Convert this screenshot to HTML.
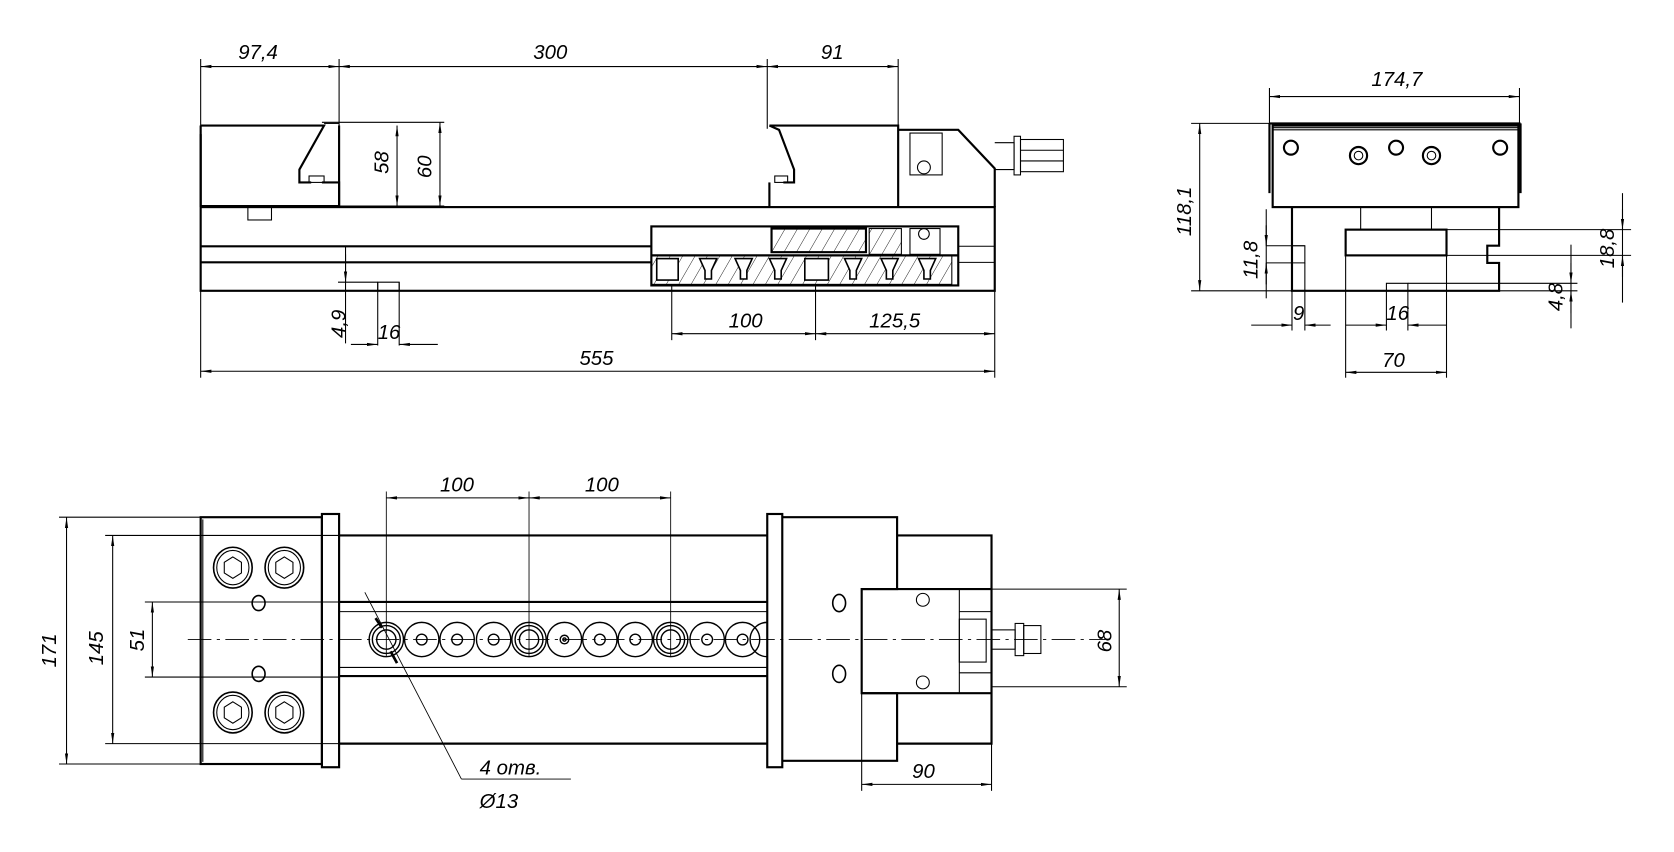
<!DOCTYPE html>
<html><head><meta charset="utf-8"><style>
html,body{margin:0;padding:0;background:#fff;}
svg{display:block}
text{font-family:"Liberation Sans",sans-serif;font-style:italic;font-size:19px;fill:#000}
</style></head><body>
<svg width="1674" height="852" viewBox="0 0 1560 794" preserveAspectRatio="none" xmlns="http://www.w3.org/2000/svg">
<defs>
<marker id="a" viewBox="0 0 10 4" refX="10" refY="2" markerWidth="10" markerHeight="4" orient="auto-start-reverse" markerUnits="userSpaceOnUse"><path d="M0,0.5L10,2L0,3.5z" fill="#000"/></marker>
<pattern id="h" width="10" height="10" patternUnits="userSpaceOnUse" patternTransform="rotate(30)"><line x1="0" y1="0" x2="0" y2="10" stroke="#000" stroke-width="0.8"/></pattern>
</defs>
<g fill="none" stroke="#000" stroke-width="1">
<line x1="187" y1="55" x2="187" y2="120"/><line x1="316" y1="55" x2="316" y2="120"/>
<line x1="715" y1="55" x2="715" y2="120"/><line x1="837" y1="55" x2="837" y2="120"/>
<line x1="187" y1="62" x2="316" y2="62" marker-start="url(#a)" marker-end="url(#a)"/>
<line x1="316" y1="62" x2="715" y2="62" marker-start="url(#a)" marker-end="url(#a)"/>
<line x1="715" y1="62" x2="837" y2="62" marker-start="url(#a)" marker-end="url(#a)"/>
<g stroke-width="2">
<path d="M187,125 L187,192 L316,192 L316,170 L300,170"/>
<path d="M187,117 L302,117 L279,158 L279,170 L290,170"/>
<line x1="187" y1="117" x2="187" y2="192"/>
<line x1="316" y1="117" x2="316" y2="192"/>
</g>
<path d="M302,115 L316,115"/>
<rect x="288" y="164" width="14" height="6"/>
<rect x="231" y="193" width="22" height="12"/>
<g stroke-width="2">
<path d="M717,117 L837,117 L837,193"/>
<path d="M717,117 L726,121 L740,158 L740,170 L730,170"/>
<path d="M717,170 L717,193"/>
<path d="M837,121 L893,121 L927,157 L927,193"/>
</g>
<rect x="722" y="164" width="12" height="6"/>
<rect x="848" y="124" width="30" height="39"/>
<circle cx="861" cy="156" r="6"/>
<path d="M927,133 L945,133 L945,158 L927,158"/>
<rect x="945" y="127" width="6" height="36"/>
<rect x="951" y="130" width="40" height="30"/>
<line x1="951" y1="140" x2="991" y2="140"/><line x1="951" y1="150" x2="991" y2="150"/>
<rect x="187" y="193" width="740" height="78" stroke-width="2"/>
<line x1="187" y1="229.5" x2="607" y2="229.5" stroke-width="2"/>
<line x1="187" y1="244.5" x2="607" y2="244.5" stroke-width="2"/>
<line x1="893" y1="229.5" x2="927" y2="229.5"/>
<line x1="893" y1="244.5" x2="927" y2="244.5"/>
<path d="M352,271 L352,263 L372,263 L372,271"/>
<rect x="607" y="211" width="286" height="55" stroke-width="2"/>
<line x1="607" y1="238" x2="893" y2="238" stroke-width="2"/>
<rect x="607" y="238" width="280" height="27" fill="url(#h)"/>
<rect x="719" y="213" width="88" height="22" fill="url(#h)" stroke-width="2"/>
<rect x="810" y="213" width="30" height="24" fill="url(#h)"/>
<rect x="848" y="213" width="28" height="24" fill="#fff"/>
<circle cx="861" cy="218" r="5"/>
<g fill="#fff" stroke-width="1.5">
<rect x="612" y="241" width="20" height="20"/>
<rect x="750" y="241" width="22" height="20"/>
<path d="M652,241 L668,241 L663,252 L663,260 L657,260 L657,252z"/>
<path d="M685,241 L701,241 L696,252 L696,260 L690,260 L690,252z"/>
<path d="M717,241 L733,241 L728,252 L728,260 L722,260 L722,252z"/>
<path d="M787,241 L803,241 L798,252 L798,260 L792,260 L792,252z"/>
<path d="M821,241 L837,241 L832,252 L832,260 L826,260 L826,252z"/>
<path d="M856,241 L872,241 L867,252 L867,260 L861,260 L861,252z"/>
</g>
<line x1="300" y1="114" x2="414" y2="114"/>
<line x1="316" y1="192" x2="414" y2="192"/>
<line x1="370" y1="117" x2="370" y2="192" marker-start="url(#a)" marker-end="url(#a)"/>
<line x1="410" y1="114" x2="410" y2="192" marker-start="url(#a)" marker-end="url(#a)"/>
<line x1="322" y1="229" x2="322" y2="320"/>
<line x1="322" y1="237" x2="322" y2="263" marker-end="url(#a)"/>
<line x1="315" y1="263" x2="352" y2="263"/>
<line x1="352" y1="263" x2="352" y2="322"/><line x1="372" y1="263" x2="372" y2="322"/>
<line x1="327" y1="321" x2="352" y2="321" marker-end="url(#a)"/>
<line x1="408" y1="321" x2="372" y2="321" marker-end="url(#a)"/>
<line x1="626" y1="266" x2="626" y2="317"/><line x1="760" y1="266" x2="760" y2="317"/>
<line x1="927" y1="271" x2="927" y2="352"/><line x1="187" y1="271" x2="187" y2="352"/>
<line x1="626" y1="311" x2="760" y2="311" marker-start="url(#a)" marker-end="url(#a)"/>
<line x1="760" y1="311" x2="927" y2="311" marker-start="url(#a)" marker-end="url(#a)"/>
<line x1="187" y1="346" x2="927" y2="346" marker-start="url(#a)" marker-end="url(#a)"/>

<line x1="1183" y1="82" x2="1183" y2="118"/><line x1="1416" y1="82" x2="1416" y2="118"/>
<line x1="1183" y1="90" x2="1416" y2="90" marker-start="url(#a)" marker-end="url(#a)"/>
<g stroke-width="2">
<rect x="1186" y="117" width="229" height="76"/>
<line x1="1183" y1="115" x2="1417" y2="115"/>
<line x1="1183" y1="115" x2="1183" y2="180"/><line x1="1417" y1="115" x2="1417" y2="180"/>
<path d="M1204,193 L1204,271 L1397,271 L1397,245 L1386,245 L1386,229 L1397,229 L1397,193"/>
<rect x="1254" y="214" width="94" height="24"/>
<circle cx="1203" cy="137.6" r="6.5"/><circle cx="1301" cy="137.6" r="6.5"/><circle cx="1398" cy="137.6" r="6.5"/>
<circle cx="1266" cy="145" r="8"/><circle cx="1334" cy="145" r="8"/>
</g>
<line x1="1186" y1="119" x2="1415" y2="119"/><line x1="1186" y1="121" x2="1415" y2="121"/>
<circle cx="1266" cy="145" r="4"/><circle cx="1334" cy="145" r="4"/>
<line x1="1268" y1="193" x2="1268" y2="214"/><line x1="1334" y1="193" x2="1334" y2="214"/>
<path d="M1204,229 L1216,229 L1216,245 L1204,245"/><line x1="1216" y1="245" x2="1216" y2="271"/>
<line x1="1254" y1="238" x2="1254" y2="352"/><line x1="1348" y1="238" x2="1348" y2="352"/>
<path d="M1292,271 L1292,264 L1312,264 L1312,271"/>
<line x1="1110" y1="115" x2="1183" y2="115"/><line x1="1110" y1="271" x2="1204" y2="271"/>
<line x1="1118" y1="115" x2="1118" y2="271" marker-start="url(#a)" marker-end="url(#a)"/>
<line x1="1180" y1="229" x2="1216" y2="229"/><line x1="1180" y1="245" x2="1204" y2="245"/>
<line x1="1180" y1="195" x2="1180" y2="278"/>
<line x1="1180" y1="210" x2="1180" y2="229" marker-end="url(#a)"/>
<line x1="1180" y1="265" x2="1180" y2="245" marker-end="url(#a)"/>
<line x1="1348" y1="214" x2="1520" y2="214"/><line x1="1348" y1="238" x2="1520" y2="238"/>
<line x1="1512" y1="180" x2="1512" y2="282"/>
<line x1="1512" y1="195" x2="1512" y2="214" marker-end="url(#a)"/>
<line x1="1512" y1="258" x2="1512" y2="238" marker-end="url(#a)"/>
<line x1="1312" y1="264" x2="1470" y2="264"/><line x1="1397" y1="271" x2="1470" y2="271"/>
<line x1="1464" y1="228" x2="1464" y2="306"/>
<line x1="1464" y1="245" x2="1464" y2="264" marker-end="url(#a)"/>
<line x1="1464" y1="292" x2="1464" y2="271" marker-end="url(#a)"/>
<line x1="1204" y1="271" x2="1204" y2="308"/><line x1="1216" y1="271" x2="1216" y2="308"/>
<line x1="1292" y1="271" x2="1292" y2="308"/><line x1="1312" y1="271" x2="1312" y2="308"/>
<line x1="1166" y1="303" x2="1204" y2="303" marker-end="url(#a)"/>
<line x1="1240" y1="303" x2="1216" y2="303" marker-end="url(#a)"/>
<line x1="1254" y1="303" x2="1292" y2="303" marker-end="url(#a)"/>
<line x1="1348" y1="303" x2="1312" y2="303" marker-end="url(#a)"/>
<line x1="1254" y1="347" x2="1348" y2="347" marker-start="url(#a)" marker-end="url(#a)"/>

<g stroke-width="2">
<rect x="187" y="482" width="113" height="230"/>
<rect x="300" y="479" width="16" height="236"/>
<line x1="316" y1="499" x2="715" y2="499"/>
<line x1="316" y1="693" x2="715" y2="693"/>
<line x1="316" y1="561" x2="715" y2="561"/><line x1="316" y1="630" x2="715" y2="630"/>
<rect x="715" y="479" width="14" height="236"/>
<path d="M729,482 L836,482 L836,549 L803,549 L803,646 L836,646 L836,709 L729,709"/>
<path d="M836,499 L924,499 L924,693 L836,693"/>
<line x1="803" y1="549" x2="924" y2="549"/><line x1="803" y1="646" x2="924" y2="646"/>
</g>
<line x1="316" y1="570" x2="715" y2="570"/><line x1="316" y1="622" x2="715" y2="622"/>
<line x1="189" y1="484" x2="189" y2="710"/>
<line x1="894" y1="549" x2="894" y2="646"/>
<line x1="894" y1="570" x2="924" y2="570"/><line x1="894" y1="627" x2="924" y2="627"/>
<rect x="894" y="577" width="25" height="40"/>
<rect x="924" y="587" width="22" height="18"/>
<rect x="946" y="581" width="8" height="30"/>
<rect x="954" y="583" width="16" height="26"/>
<circle cx="860" cy="559" r="6"/><circle cx="860" cy="636" r="6"/>
<g stroke-width="1.5">
<ellipse cx="217" cy="529" rx="18" ry="19"/><ellipse cx="265" cy="529" rx="18" ry="19"/>
<ellipse cx="217" cy="664" rx="18" ry="19"/><ellipse cx="265" cy="664" rx="18" ry="19"/>
</g>
<ellipse cx="217" cy="529" rx="15" ry="16"/><ellipse cx="265" cy="529" rx="15" ry="16"/>
<ellipse cx="217" cy="664" rx="15" ry="16"/><ellipse cx="265" cy="664" rx="15" ry="16"/>
<path d="M217,519 l8,5 v10 l-8,5 l-8,-5 v-10z"/><path d="M265,519 l8,5 v10 l-8,5 l-8,-5 v-10z"/>
<path d="M217,654 l8,5 v10 l-8,5 l-8,-5 v-10z"/><path d="M265,654 l8,5 v10 l-8,5 l-8,-5 v-10z"/>
<ellipse cx="241" cy="562" rx="6" ry="7" stroke-width="1.5"/><ellipse cx="241" cy="628" rx="6" ry="7" stroke-width="1.5"/>
<ellipse cx="782" cy="562" rx="6" ry="8" stroke-width="1.5"/><ellipse cx="782" cy="628" rx="6" ry="8" stroke-width="1.5"/>
<g stroke-width="1.3">
<circle cx="360" cy="596" r="16"/><circle cx="360" cy="596" r="13"/><circle cx="360" cy="596" r="9"/>
<circle cx="393" cy="596" r="16"/><circle cx="393" cy="596" r="5"/>
<circle cx="426" cy="596" r="16"/><circle cx="426" cy="596" r="5"/>
<circle cx="460" cy="596" r="16"/><circle cx="460" cy="596" r="5"/>
<circle cx="493" cy="596" r="16"/><circle cx="493" cy="596" r="13"/><circle cx="493" cy="596" r="9"/>
<circle cx="526" cy="596" r="16"/><circle cx="526" cy="596" r="4"/><circle cx="526" cy="596" r="1.5"/>
<circle cx="559" cy="596" r="16"/><circle cx="559" cy="596" r="5"/>
<circle cx="592" cy="596" r="16"/><circle cx="592" cy="596" r="5"/>
<circle cx="625" cy="596" r="16"/><circle cx="625" cy="596" r="13"/><circle cx="625" cy="596" r="9"/>
<circle cx="659" cy="596" r="16"/><circle cx="659" cy="596" r="5"/>
<circle cx="692" cy="596" r="16"/><circle cx="692" cy="596" r="5"/>
<path d="M715,580 A16,16 0 0 0 715,612"/>
</g>
<line x1="175" y1="596" x2="1030" y2="596" stroke-dasharray="22,5,3,5" stroke-width="0.8"/>
<line x1="360" y1="458" x2="360" y2="612" stroke-width="0.8"/>
<line x1="493" y1="458" x2="493" y2="612" stroke-width="0.8"/>
<line x1="625" y1="458" x2="625" y2="612" stroke-width="0.8"/>
<line x1="360" y1="464" x2="493" y2="464" marker-start="url(#a)" marker-end="url(#a)"/>
<line x1="493" y1="464" x2="625" y2="464" marker-start="url(#a)" marker-end="url(#a)"/>
<line x1="55" y1="482" x2="187" y2="482"/><line x1="55" y1="712" x2="187" y2="712"/>
<line x1="62" y1="482" x2="62" y2="712" marker-start="url(#a)" marker-end="url(#a)"/>
<line x1="98" y1="499" x2="316" y2="499"/><line x1="98" y1="693" x2="316" y2="693"/>
<line x1="105" y1="499" x2="105" y2="693" marker-start="url(#a)" marker-end="url(#a)"/>
<line x1="135" y1="561" x2="316" y2="561"/><line x1="135" y1="631" x2="316" y2="631"/>
<line x1="142" y1="561" x2="142" y2="631" marker-start="url(#a)" marker-end="url(#a)"/>
<line x1="924" y1="549" x2="1050" y2="549"/><line x1="924" y1="640" x2="1050" y2="640"/>
<line x1="1043" y1="549" x2="1043" y2="640" marker-start="url(#a)" marker-end="url(#a)"/>
<line x1="803" y1="646" x2="803" y2="737"/><line x1="924" y1="693" x2="924" y2="737"/>
<line x1="803" y1="731" x2="924" y2="731" marker-start="url(#a)" marker-end="url(#a)"/>
<line x1="340" y1="552" x2="430" y2="726" stroke-width="0.8"/>
<line x1="430" y1="726" x2="532" y2="726" stroke-width="0.8"/>
<line x1="350" y1="576" x2="356" y2="585" stroke-width="2.5"/>
<line x1="364" y1="607" x2="370" y2="618" stroke-width="2.5"/>
</g>
<text x="222" y="55">97,4</text>
<text x="497" y="55">300</text>
<text x="765" y="55">91</text>
<text transform="translate(362,162) rotate(-90)">58</text>
<text transform="translate(402,166) rotate(-90)">60</text>
<text transform="translate(322,315) rotate(-90)">4,9</text>
<text x="352" y="316">16</text>
<text x="679" y="305">100</text>
<text x="810" y="305">125,5</text>
<text x="540" y="340">555</text>
<text x="1278" y="80">174,7</text>
<text transform="translate(1110,220) rotate(-90)">118,1</text>
<text transform="translate(1172,260) rotate(-90)">11,8</text>
<text transform="translate(1504,250) rotate(-90)">18,8</text>
<text transform="translate(1456,290) rotate(-90)">4,8</text>
<text x="1205" y="298">9</text>
<text x="1292" y="298">16</text>
<text x="1288" y="342">70</text>
<text x="410" y="458">100</text>
<text x="545" y="458">100</text>
<text transform="translate(52,622) rotate(-90)">171</text>
<text transform="translate(96,620) rotate(-90)">145</text>
<text transform="translate(134,607) rotate(-90)">51</text>
<text transform="translate(1036,608) rotate(-90)">68</text>
<text x="850" y="725">90</text>
<text x="447" y="722">4 отв.</text>
<text x="447" y="753">Ø13</text>
</svg>
</body></html>
